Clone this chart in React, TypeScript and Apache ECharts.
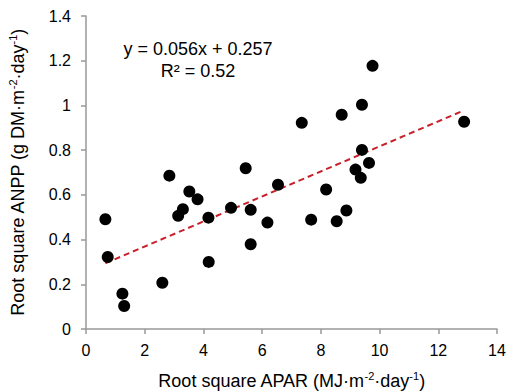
import React, { useEffect, useRef } from "react";
import * as echarts from "echarts";

const xTicks = { min: 0, max: 14, interval: 2 };
const yTicks = { min: 0, max: 1.4, interval: 0.2 };

const apar: number[] = [
  0.66, 0.74, 1.24, 1.3, 2.6, 2.84, 3.14, 3.3, 3.52, 3.8, 4.17, 4.18, 4.94, 5.44, 5.61, 5.61,
  6.18, 6.54, 7.35, 7.67, 8.18, 8.54, 8.71, 8.87, 9.18, 9.36, 9.4, 9.4, 9.64, 9.76, 12.88,
];
const anpp: number[] = [
  0.491, 0.322, 0.158, 0.103, 0.207, 0.686, 0.506, 0.536, 0.615, 0.58, 0.498, 0.3, 0.542, 0.719, 0.533, 0.379,
  0.476, 0.645, 0.922, 0.489, 0.624, 0.482, 0.958, 0.53, 0.713, 0.676, 0.801, 1.003, 0.743, 1.177, 0.927,
];
const trendX: number[] = [0.66, 12.88];
const trendY: number[] = [0.294, 0.978];

const equationText = "y = 0.056x + 0.257";
const r2Text = "R² = 0.52";

const FONT = "'Liberation Sans', Arial, sans-serif";

export default function App() {
  const ref = useRef<HTMLDivElement>(null);
  useEffect(() => {
    if (!ref.current) return;
    const chart = echarts.init(ref.current, undefined, { renderer: "svg" });
    const axisName = {
      a: { fontSize: 18, fontFamily: FONT, color: "#000", lineHeight: 22 },
      s: { fontSize: 11, fontFamily: FONT, color: "#000", verticalAlign: "top" as const, lineHeight: 12 },
    };
    chart.setOption({
      animation: false,
      textStyle: { fontFamily: FONT },
      grid: { left: 86, right: 9, top: 16, bottom: 63, containLabel: false, outerBoundsMode: "none" },
      xAxis: {
        type: "value",
        min: xTicks.min,
        max: xTicks.max,
        interval: xTicks.interval,
        name: "{a|Root square APAR (MJ·m}{s|-2}{a|·day}{s|-1}{a|)}",
        nameLocation: "middle",
        nameGap: 41,
        nameTextStyle: { rich: axisName },
        axisLine: { show: true, onZero: false, lineStyle: { color: "#999", width: 1.5 } },
        axisTick: { show: true, inside: false, length: 5, lineStyle: { color: "#999", width: 1.5 } },
        axisLabel: { fontSize: 16, color: "#000", margin: 13, fontFamily: FONT },
        splitLine: { show: false },
      },
      yAxis: {
        type: "value",
        min: yTicks.min,
        max: yTicks.max,
        interval: yTicks.interval,
        name: "{a|Root square ANPP (g DM·m}{s|-2}{a|·day}{s|-1}{a|)}",
        nameLocation: "middle",
        nameGap: 57,
        nameRotate: 90,
        nameTextStyle: { rich: axisName },
        axisLine: { show: true, onZero: false, lineStyle: { color: "#999", width: 1.5 } },
        axisTick: { show: true, inside: false, length: 5, lineStyle: { color: "#999", width: 1.5 } },
        axisLabel: { fontSize: 16, color: "#000", margin: 15, fontFamily: FONT },
        splitLine: { show: false },
      },
      series: [
        {
          type: "line",
          data: trendX.map((x, i) => [x, trendY[i]]),
          symbol: "none",
          lineStyle: { color: "#c8202a", width: 2, type: [6, 4] },
          z: 1,
        },
        {
          type: "scatter",
          data: apar.map((x, i) => [x, anpp[i]]),
          symbol: "circle",
          symbolSize: 12,
          itemStyle: { color: "#000", opacity: 1 },
          z: 2,
        },
      ],
      graphic: [
        {
          type: "text",
          style: {
            text: equationText,
            x: 198,
            y: 49,
            fontSize: 18,
            fontFamily: FONT,
            fill: "#000",
            align: "center",
            verticalAlign: "middle",
          },
        },
        {
          type: "text",
          style: {
            text: r2Text,
            x: 198,
            y: 71,
            fontSize: 18,
            fontFamily: FONT,
            fill: "#000",
            align: "center",
            verticalAlign: "middle",
          },
        },
      ],
    });
    return () => chart.dispose();
  }, []);
  return (
    <div
      ref={ref}
      style={{ position: "absolute", left: 0, top: 0, width: 506, height: 392, background: "#fff" }}
    />
  );
}
